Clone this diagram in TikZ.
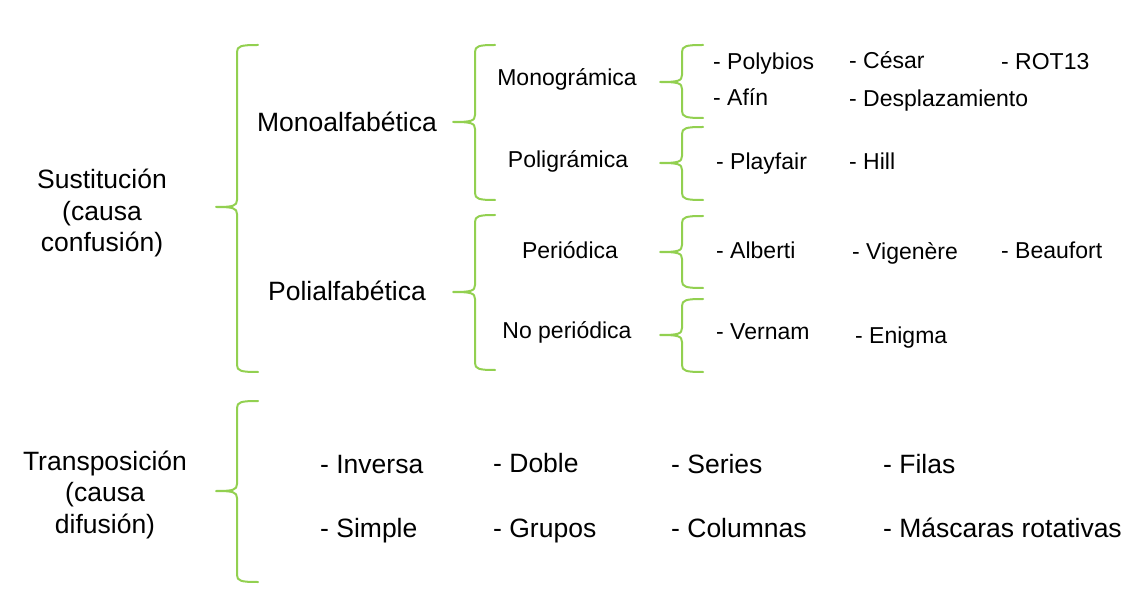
\documentclass[tikz,border=0pt]{standalone}
\usepackage{fontspec}
\setmainfont{Liberation Sans}
\definecolor{bracegreen}{RGB}{146,208,80}
\newcommand{\bigtxt}{\fontsize{26.5}{31.5}\selectfont}
\newcommand{\smalltxt}{\fontsize{23}{28}\selectfont}
% \cbrace{xline}{xtip}{xright}{ytop}{ymid}{ybot}
\newcommand{\cbrace}[6]{%
  \draw[bracestyle] (#3,#4) .. controls (#1+4,#4) and (#1,#4+1) .. (#1,#4+7)
    -- (#1,#5-7) .. controls (#1,#5-1) and (#1-4,#5) .. (#2,#5)
    .. controls (#1-4,#5) and (#1,#5+1) .. (#1,#5+7)
    -- (#1,#6-7) .. controls (#1,#6-1) and (#1+4,#6) .. (#3,#6);}
\begin{document}
\begin{tikzpicture}[x=1pt,y=-1pt,
  bracestyle/.style={draw=bracegreen,line width=2pt,line cap=round,line join=round},
  bigc/.style={font=\bigtxt,inner sep=0pt,anchor=base,align=center},
  smallc/.style={font=\smalltxt,inner sep=0pt,anchor=base},
  smallw/.style={font=\smalltxt,inner sep=0pt,anchor=base west},
  bigw/.style={font=\bigtxt,inner sep=0pt,anchor=base west}]
\useasboundingbox (0,0) rectangle (1148,609);
% level 0 (base anchor = last line baseline)
\node[bigc] (sust) at (102,252) {Sustitución\\(causa\\confusión)};
\node[bigc] (trans) at (105,533) {Transposición\\(causa\\difusión)};
% level 1
\node[bigc] (mono) at (347,132) {Monoalfabética};
\node[bigc] (poli) at (347,301) {Polialfabética};
% level 2
\node[smallc] (monog) at (567,86) {Monográmica};
\node[smallc] (polig) at (568,168) {Poligrámica};
\node[smallc] (perio) at (570,259) {Periódica};
\node[smallc] (noper) at (567,338) {No periódica};
% leaves
\node[smallw] (polyb) at (713,70) {- Polybios};
\node[smallw] (cesar) at (849,69) {- César};
\node[smallw] (rot) at (1001,70) {- ROT13};
\node[smallw] (afin) at (713,106) {- Afín};
\node[smallw] (despl) at (849,107) {- Desplazamiento};
\node[smallw] (playf) at (716,170) {- Playfair};
\node[smallw] (hill) at (849,170) {- Hill};
\node[smallw] (alb) at (716,259) {- Alberti};
\node[smallw] (vig) at (852,260) {- Vigenère};
\node[smallw] (beau) at (1001,259) {- Beaufort};
\node[smallw] (vern) at (716,340) {- Vernam};
\node[smallw] (enig) at (855,344) {- Enigma};
% transposition leaves
\node[bigw] (inv) at (320,473) {- Inversa};
\node[bigw] (dob) at (493,472) {- Doble};
\node[bigw] (ser) at (671,473) {- Series};
\node[bigw] (fil) at (883,473) {- Filas};
\node[bigw] (simp) at (320,537) {- Simple};
\node[bigw] (grup) at (493,537) {- Grupos};
\node[bigw] (col) at (671,537) {- Columnas};
\node[bigw] (masc) at (883,537) {- Máscaras rotativas};
% braces
\cbrace{237}{216}{258}{45}{207}{372}
\cbrace{237}{216}{258}{401}{491}{582}
\cbrace{475}{453}{495}{45}{122}{200}
\cbrace{475}{453}{495}{215}{292}{370}
\cbrace{682}{660}{703}{45}{82}{118}
\cbrace{682}{660}{703}{127}{163}{200}
\cbrace{682}{660}{703}{216}{252}{288}
\cbrace{682}{660}{703}{299}{335}{372}
\end{tikzpicture}
\end{document}
